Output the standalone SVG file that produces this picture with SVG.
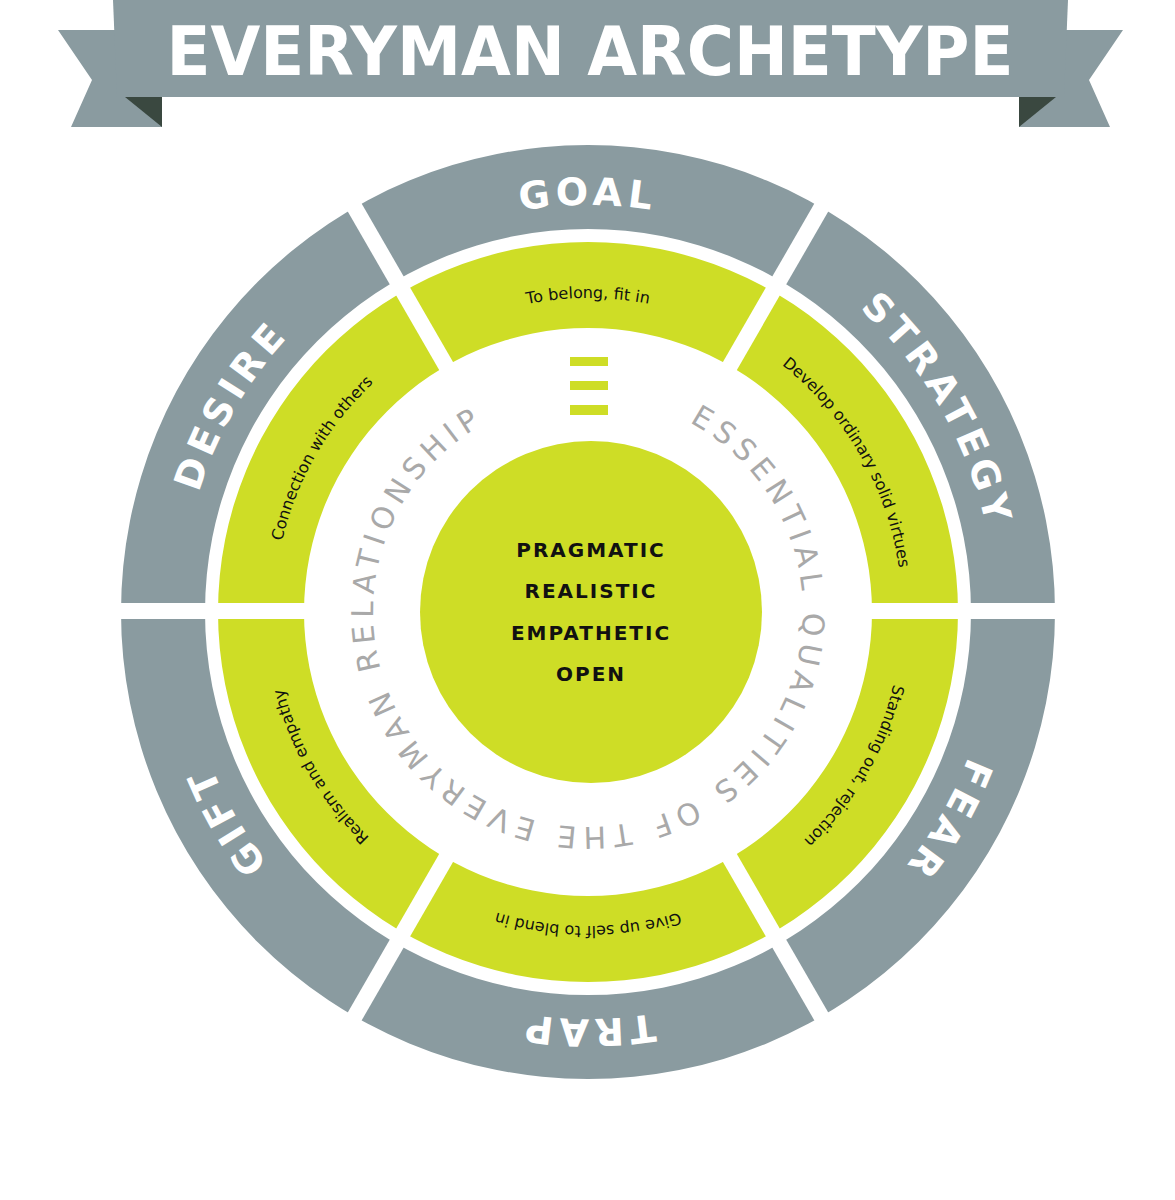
<svg xmlns="http://www.w3.org/2000/svg" xmlns:xlink="http://www.w3.org/1999/xlink" width="1175" height="1200" viewBox="0 0 1175 1200">
<style>
.gray{fill:#8a9ba0}.green{fill:#cedd26}
.lbl{font-family:"DejaVu Sans",sans-serif;font-weight:bold;fill:#fff;font-size:38px;letter-spacing:5px}
.gt{font-family:"DejaVu Sans",sans-serif;fill:#111;font-size:16px}
.ct{font-family:"DejaVu Sans",sans-serif;font-weight:bold;fill:#111;font-size:20px;letter-spacing:2px}
</style>
<defs>
<path id="c407" d="M588,205 A407,407 0 1 1 588,1019 A407,407 0 1 1 588,205"/>
<path id="c407b" d="M588,1019 A407,407 0 1 1 588,205 A407,407 0 1 1 588,1019"/>
<path id="c314" d="M588,298 A314,314 0 1 1 588,926 A314,314 0 1 1 588,298"/>
<path id="c314b" d="M588,926 A314,314 0 1 1 588,298 A314,314 0 1 1 588,926"/>
<path id="c215" d="M588,397 A215,215 0 1 1 588,827 A215,215 0 1 1 588,397"/>
</defs>
<g id="banner">
<polygon points="58,30 120,30 162,97 162,127 71,127 92,80" class="gray"/>
<polygon points="1123,30 1061,30 1019,97 1019,127 1110,127 1089,80" class="gray"/>
<polygon points="125,97 162,97 162,127" fill="#3a4840"/>
<polygon points="1056,97 1019,97 1019,127" fill="#3a4840"/>
<polygon points="113,0 1068,0 1064,97 117,97" class="gray"/>
<text x="590" y="75" font-family="DejaVu Sans,sans-serif" font-weight="bold" font-size="68" fill="#fff" text-anchor="middle" textLength="847" lengthAdjust="spacingAndGlyphs">EVERYMAN ARCHETYPE</text>
</g>
<g id="rings">
<path class="gray" fill-rule="evenodd" d="M588,145 A467,467 0 1 1 588,1079 A467,467 0 1 1 588,145 Z M588,229 A383,383 0 1 0 588,995 A383,383 0 1 0 588,229 Z"/>
<path class="green" fill-rule="evenodd" d="M588,242 A370,370 0 1 1 588,982 A370,370 0 1 1 588,242 Z M588,328 A284,284 0 1 0 588,896 A284,284 0 1 0 588,328 Z"/>
<g stroke="#fff" stroke-width="16">
<line x1="100" y1="611" x2="1076" y2="611"/>
<line x1="344" y1="189" x2="832" y2="1035"/>
<line x1="832" y1="189" x2="344" y2="1035"/>
</g>
<circle cx="591" cy="612" r="171" class="green"/>
</g>
<g id="labels">
<text class="lbl" text-anchor="middle"><textPath xlink:href="#c407b" startOffset="50%">GOAL</textPath></text>
<text class="lbl" text-anchor="middle"><textPath xlink:href="#c407" startOffset="16.667%">STRATEGY</textPath></text>
<text class="lbl" text-anchor="middle"><textPath xlink:href="#c407" startOffset="33.333%">FEAR</textPath></text>
<text class="lbl" text-anchor="middle"><textPath xlink:href="#c407" startOffset="50%">TRAP</textPath></text>
<text class="lbl" text-anchor="middle"><textPath xlink:href="#c407" startOffset="66.667%">GIFT</textPath></text>
<text class="lbl" text-anchor="middle"><textPath xlink:href="#c407" startOffset="83.333%">DESIRE</textPath></text>
</g>
<g id="green-texts">
<text class="gt" text-anchor="middle"><textPath xlink:href="#c314b" startOffset="50%">To belong, fit in</textPath></text>
<text class="gt" text-anchor="middle"><textPath xlink:href="#c314" startOffset="16.667%">Develop ordinary solid virtues</textPath></text>
<text class="gt" text-anchor="middle"><textPath xlink:href="#c314" startOffset="33.333%">Standing out, rejection</textPath></text>
<text class="gt" text-anchor="middle"><textPath xlink:href="#c314" startOffset="50%">Give up self to blend in</textPath></text>
<text class="gt" text-anchor="middle"><textPath xlink:href="#c314" startOffset="66.667%">Realism and empathy</textPath></text>
<text class="gt" text-anchor="middle"><textPath xlink:href="#c314" startOffset="83.333%">Connection with others</textPath></text>
</g>
<g id="inner-ring">
<text font-family="DejaVu Sans,sans-serif" font-size="30" fill="#a9a9a9"><textPath xlink:href="#c215" startOffset="7.8%" textLength="1133" lengthAdjust="spacing">ESSENTIAL QUALITIES OF THE EVERYMAN RELATIONSHIP</textPath></text>
<rect x="570" y="357" width="38" height="9" class="green"/>
<rect x="570" y="381" width="38" height="9" class="green"/>
<rect x="570" y="405" width="38" height="10" class="green"/>
</g>
<g id="center">
<text x="591" y="557" class="ct" text-anchor="middle">PRAGMATIC</text>
<text x="591" y="598" class="ct" text-anchor="middle">REALISTIC</text>
<text x="591" y="640" class="ct" text-anchor="middle">EMPATHETIC</text>
<text x="591" y="681" class="ct" text-anchor="middle">OPEN</text>
</g>
</svg>
